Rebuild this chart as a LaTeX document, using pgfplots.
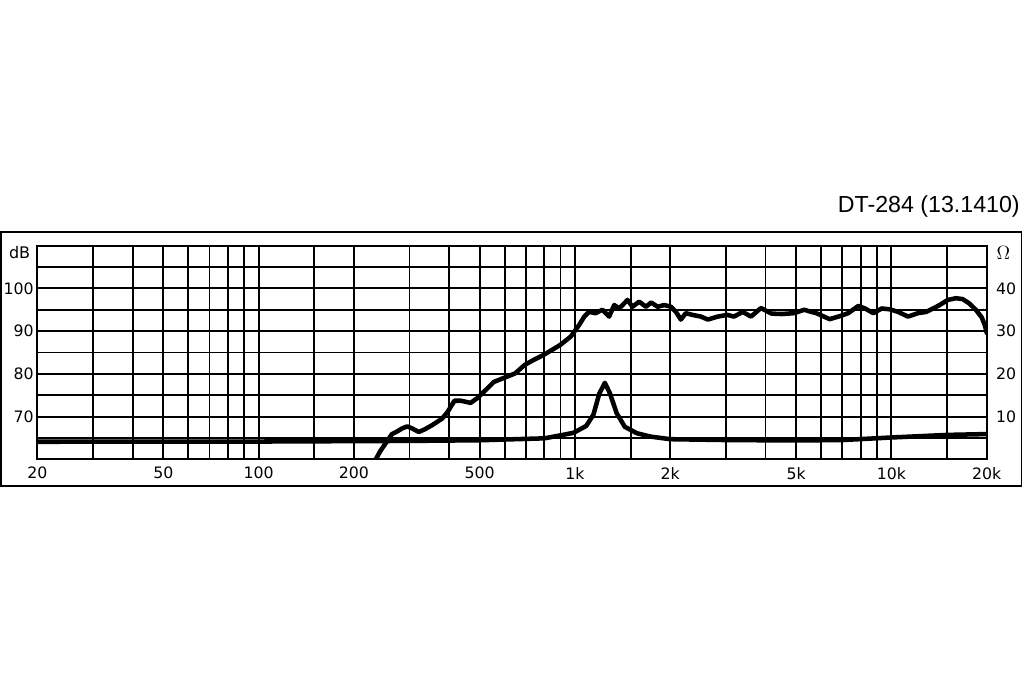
\documentclass[border=0pt]{standalone}
\usepackage{pgfplots}
\pgfplotsset{compat=1.18}
\usepackage{fontspec}
\setmainfont{DejaVu Sans}
\newfontfamily\arial{Liberation Sans}

% frequency response (dB) and impedance (Ohm)
\pgfplotstableread{
f dB
234 59.8
242 61.8
254 64.1
264 65.9
274 66.5
284 67.2
295 67.7
306 67.2
321 66.4
335 67.0
354 68.0
380 69.5
396 71.1
416 73.7
436 73.7
468 73.2
491 74.3
522 76.2
554 78.1
594 79.0
647 80.1
694 82.1
738 83.2
795 84.4
846 85.6
900 86.8
969 88.7
1030 91.4
1070 93.4
1107 94.5
1162 94.2
1220 95.0
1282 93.4
1330 96.1
1380 95.3
1465 97.3
1520 95.7
1595 96.9
1677 95.7
1740 96.7
1825 95.7
1915 96.1
2010 95.7
2085 94.5
2160 92.7
2240 94.2
2350 93.8
2500 93.4
2630 92.7
2825 93.4
3030 93.8
3180 93.4
3390 94.5
3600 93.4
3870 95.4
4180 94.1
4500 94.0
4920 94.2
5300 95.0
5580 94.5
5790 94.2
6380 92.8
6870 93.5
7300 94.2
7860 95.9
8250 95.3
8770 94.2
9320 95.3
9890 95.1
10500 94.5
11280 93.4
12130 94.2
12890 94.5
13530 95.3
14200 96.1
15070 97.3
16000 97.7
16780 97.5
17610 96.5
18480 95.0
19300 93.2
19750 91.3
20000 89.6
}\spl

\pgfplotstableread{
f Z
20 4.1
100 4.15
300 4.3
500 4.45
800 4.9
900 5.6
990 6.2
1085 7.8
1143 10.4
1194 15.4
1243 17.9
1290 15.4
1354 10.8
1437 7.6
1568 6.1
1735 5.3
2000 4.7
3000 4.5
5000 4.4
7000 4.5
10000 5.1
15000 5.7
20000 5.9
}\imp

\begin{document}
\begin{tikzpicture}
\path[use as bounding box] (0,0) rectangle (768pt,512.25pt);
\draw[line width=1.3pt] (0.6pt,147.75pt) rectangle (766.2pt,338.5pt);
\node[anchor=base east, inner sep=0pt, font=\arial\fontsize{17.4}{20}\selectfont]
  at (765pt,352.7pt) {DT-284 (13.1410)};
\node[anchor=east, inner sep=0pt, font=\fontsize{12}{13}\selectfont]
  at (22.8pt,322.7pt) {dB};
\node[inner sep=0pt, font=\fontsize{15}{16}\selectfont]
  at (752.6pt,322.3pt) {$\Omega$};

\pgfplotsset{
  every axis/.append style={
    at={(28pt,167.8pt)}, anchor=south west,
    width=712pt, height=160.2pt, scale only axis,
    xmode=log, xmin=20, xmax=20000,
    major tick length=0pt,
    tick label style={font=\fontsize{11.8}{13}\selectfont},
    /pgf/number format/assume math mode=true,
  }
}

\begin{axis}[
    ymin=60, ymax=110,
    axis line style={black, line width=1.45pt},
    grid=major,
    grid style={black, line width=1.45pt},
    xtick={20,30,40,50,60,70,80,90,100,150,200,300,400,500,600,700,800,900,
           1000,1500,2000,3000,4000,5000,6000,7000,8000,9000,10000,15000,20000},
    xticklabels={20,{},{},50,{},{},{},{},100,{},200,{},{},500,{},{},{},{},
                 1k,{},2k,{},{},5k,{},{},{},{},10k,{},20k},
    xticklabel style={yshift=-2.3pt},
    ytick={60,65,70,75,80,85,90,95,100,105,110},
    yticklabels={{},{},70,{},80,{},90,{},100,{},{}},
    yticklabel style={xshift=0.8pt},
]
\addplot[black, line width=3.4pt, line join=round, line cap=round] table[x=f, y=dB] {\spl};
\end{axis}

\begin{axis}[
    ymin=0, ymax=50,
    axis x line=none,
    axis y line*=right,
    y axis line style={draw=none},
    ytick={10,20,30,40},
    yticklabel style={xshift=3.5pt},
]
\addplot[black, line width=3.4pt, line join=round, line cap=round] table[x=f, y=Z] {\imp};
\end{axis}
\end{tikzpicture}
\end{document}
